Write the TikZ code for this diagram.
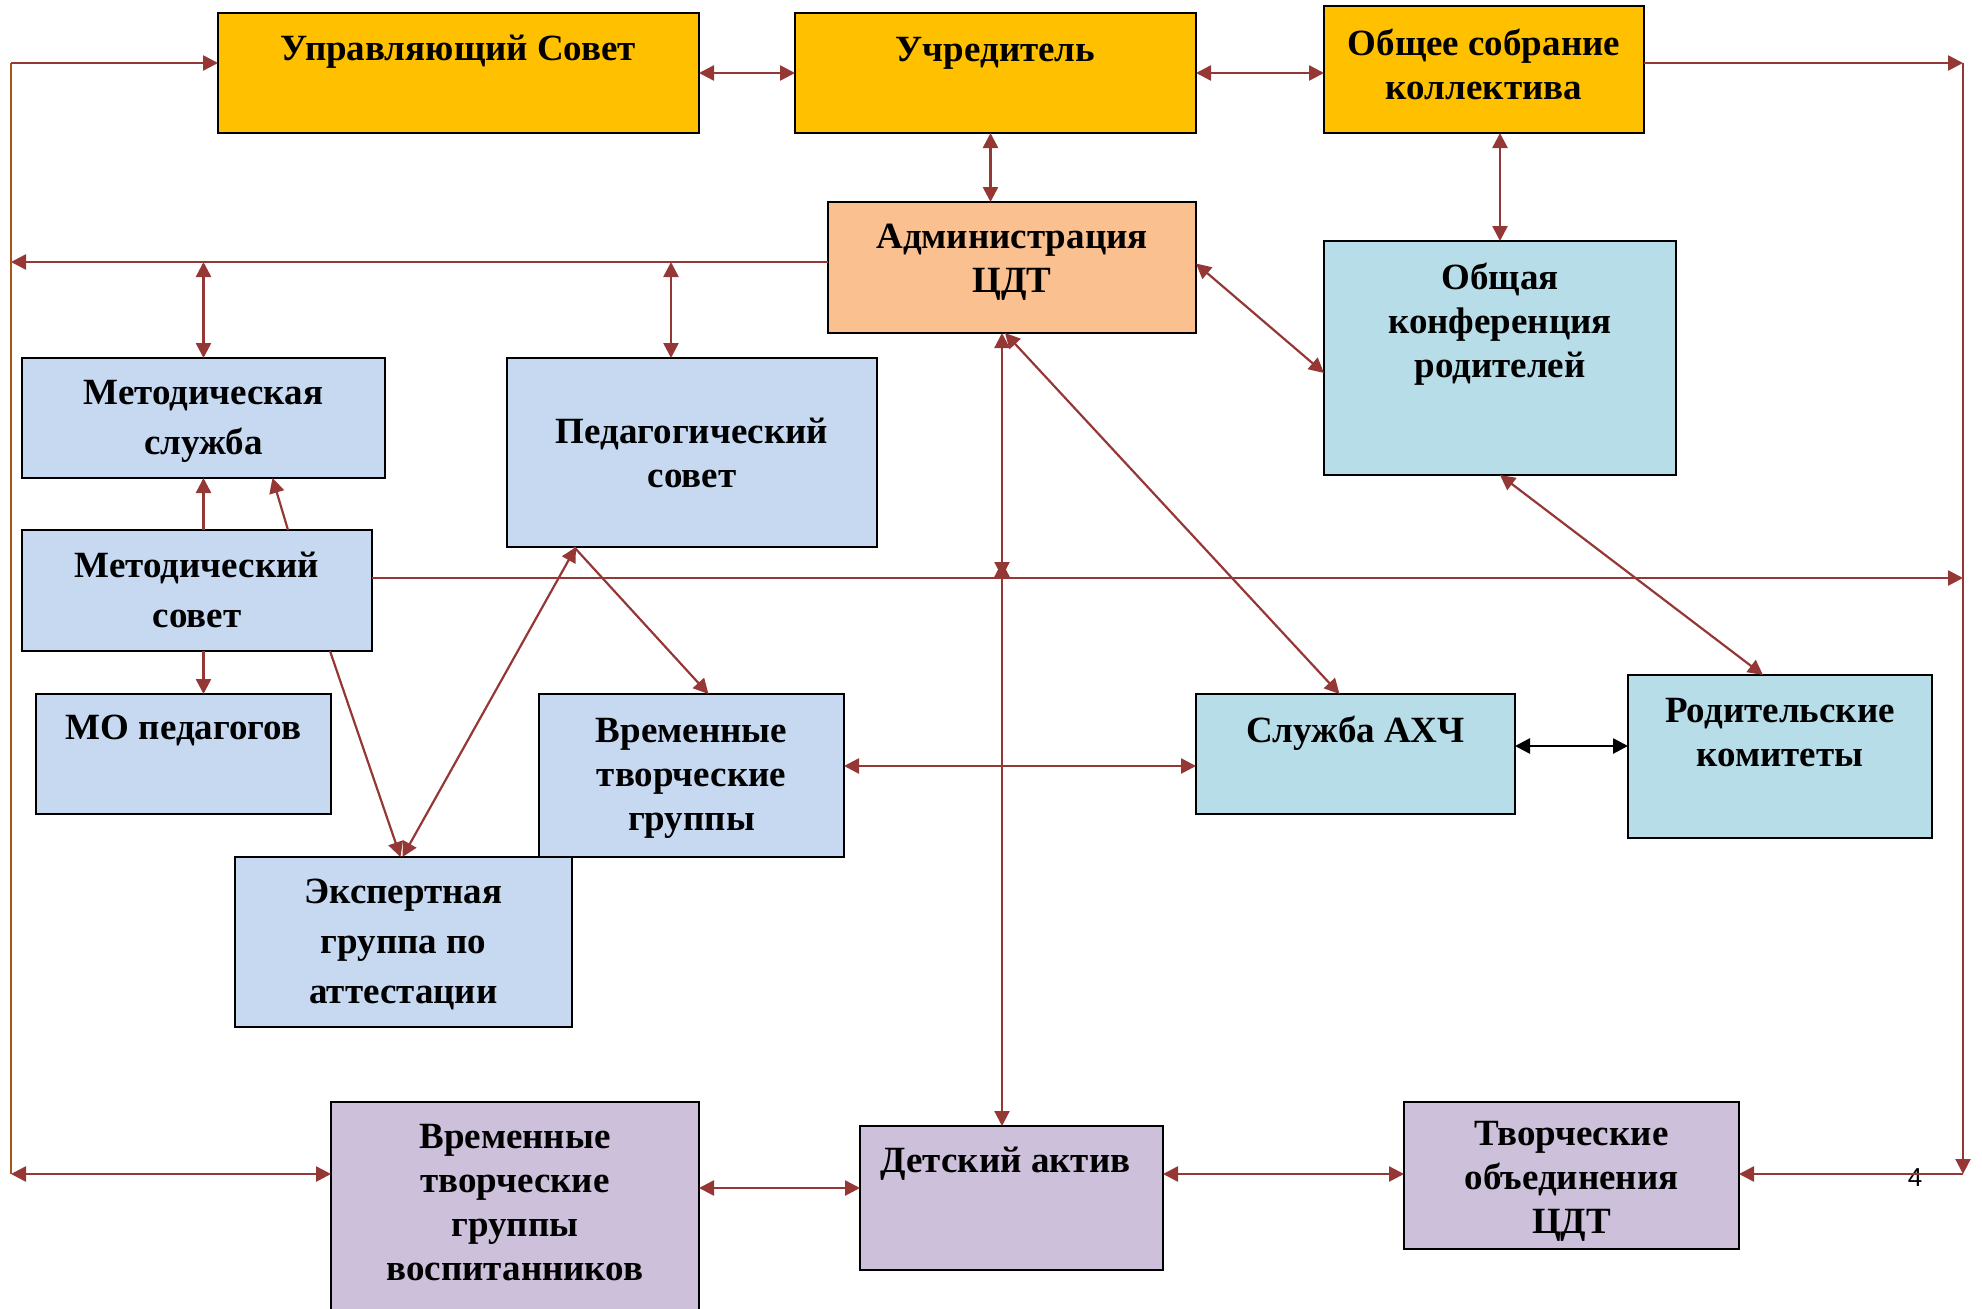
\documentclass[tikz,border=0pt]{standalone}
\usepackage{fontspec}
\setmainfont{Liberation Serif}
\newfontfamily\pagefont{Liberation Sans}
\usetikzlibrary{arrows.meta,calc}
\definecolor{gold}{HTML}{FFC000}
\definecolor{peach}{HTML}{FAC090}
\definecolor{lblue}{HTML}{C6D9F1}
\definecolor{lteal}{HTML}{B7DDE8}
\definecolor{lilac}{HTML}{CCC0DA}
\definecolor{arrowred}{HTML}{953735}
\definecolor{framebrown}{HTML}{A65717}
\tikzset{
  box/.style={draw=black, line width=2.5pt, rectangle, inner sep=0pt, outer sep=0pt, anchor=north west},
  txt/.style={font=\fontsize{37}{44}\selectfont\bfseries, align=center, inner sep=0pt, yshift=-3pt},
  txtw/.style={font=\fontsize{37}{50}\selectfont\bfseries, align=center, inner sep=0pt, yshift=-3pt},
  arr/.style={draw=arrowred, line width=2.6pt},
  thinarr/.style={draw=arrowred, line width=2.2pt},
  >={Triangle[length=15pt,width=15pt]}
}
\begin{document}
\begin{tikzpicture}[x=1pt,y=-1pt]
\useasboundingbox (0,0) rectangle (1982,1309);
% boxes
\node[box, fill=gold, minimum width=481, minimum height=120] (US) at (218,13) {};
\node[box, fill=gold, minimum width=401, minimum height=120] (Uch) at (795,13) {};
\node[box, fill=gold, minimum width=320, minimum height=127] (OS) at (1324,6) {};
\node[box, fill=peach, minimum width=368, minimum height=131] (Adm) at (828,202) {};
\node[box, fill=lteal, minimum width=352, minimum height=234] (OK) at (1324,241) {};
\node[box, fill=lblue, minimum width=363, minimum height=120] (MS) at (22,358) {};
\node[box, fill=lblue, minimum width=370, minimum height=189] (PS) at (507,358) {};
\node[box, fill=lblue, minimum width=350, minimum height=121] (MSov) at (22,530) {};
\node[box, fill=lblue, minimum width=295, minimum height=120] (MO) at (36,694) {};
\node[box, fill=lblue, minimum width=305, minimum height=163] (VTG) at (539,694) {};
\node[box, fill=lteal, minimum width=319, minimum height=120] (AHCH) at (1196,694) {};
\node[box, fill=lteal, minimum width=304, minimum height=163] (RK) at (1628,675) {};
\node[box, fill=lblue, minimum width=337, minimum height=170] (EG) at (235,857) {};
\node[box, fill=lilac, minimum width=368, minimum height=240] (VTGV) at (331,1102) {};
\node[box, fill=lilac, minimum width=303, minimum height=144] (DA) at (860,1126) {};
\node[box, fill=lilac, minimum width=335, minimum height=147] (TO) at (1404,1102) {};
% texts
\node[txt] (US-t) at (US.center |- 0,49) {Управляющий Совет};
\node[txt] (Uch-t) at (Uch.center |- 0,50) {Учредитель};
\node[txt] (OS-t) at (OS.center |- 0,61) {Общее собрание\\коллектива};
\node[txt] (Adm-t) at (Adm.center |- 0,259) {Администрация\\ЦДТ};
\node[txt] (OK-t) at (OK.center |- 0,321) {Общая\\конференция\\родителей};
\node[txtw] (MS-t) at (MS.center |- 0,418) {Методическая\\служба};
\node[txt] (PS-t) at (PS.center |- 0,450) {Педагогический\\совет};
\node[txtw] (MSov-t) at (MSov.center |- 0,587) {Методический\\совет};
\node[txt] (MO-t) at (MO.center |- 0,727) {МО педагогов};
\node[txt] (VTG-t) at (VTG.center |- 0,775) {Временные\\творческие\\группы};
\node[txt] (AHCH-t) at (AHCH.center |- 0,730) {Служба АХЧ};
\node[txt] (RK-t) at (RK.center |- 0,730) {Родительские\\комитеты};
\node[txtw] (EG-t) at (EG.center |- 0,941) {Экспертная\\группа по\\аттестации};
\node[txt] (VTGV-t) at (VTGV.center |- 0,1200) {Временные\\творческие\\группы\\воспитанников};
\node[txt] (DA-t) at ($(DA.center |- 0,1161)+(-6,0)$) {Детский актив};
\node[txt] (TO-t) at (TO.center |- 0,1178) {Творческие\\объединения\\ЦДТ};
\node[font=\pagefont\fontsize{26}{30}\selectfont, inner sep=0pt] (pg) at (1915,1178) {4};
% helper coordinates
\coordinate (L1) at (11,262);
\coordinate (P1) at (671,262);
\coordinate (LT) at (11,63);
\coordinate (LB) at (11,1174);
\coordinate (RT) at (1963,63);
\coordinate (RB) at (1963,1174);
\coordinate (RM) at (1963,578);
\coordinate (H1) at (0,766);
\coordinate (H2) at (0,746);
\coordinate (H3) at (0,1188);
\coordinate (XA) at (1002,577);
\coordinate (XB) at (1002,562);
% top row
\draw[arr,<->] (US.east) -- (US.east -| Uch.west);
\draw[arr,<->] (Uch.east) -- (Uch.east -| OS.west);
\draw[arr,<->] ($(Uch.south)+(-5,0)$) -- ($(Uch.south |- Adm.north)+(-5,0)$);
\draw[arr,<->] (OK.north |- OS.south) -- (OK.north);
\draw[thinarr,<->] ($(Adm.east)+(0,-4)$) -- ($(OK.west)+(0,15)$);
% administration line to the left
\draw[arr,->] (Adm.west |- L1) -- (L1);
\draw[arr,<->] (MS.north |- L1) -- (MS.north);
\draw[arr,<->] (P1) -- (P1 |- PS.north);
% left frame
\draw[draw=framebrown, line width=2.5pt] (LT) -- (LB);
\draw[arr,->] (LT) -- (LT -| US.west);
\draw[arr,<->] (LB) -- (LB -| VTGV.west);
% right frame
\draw[arr,->] (RT -| OS.east) -- (RT);
\draw[thinarr,->] (RT) -- (RB);
\draw[arr,->] (RB) -- (RB -| TO.east);
\draw[arr,->] (RM -| MSov.east) -- (RM);
% middle
\draw[arr,<->] (VTG.east |- H1) -- (AHCH.west |- H1);
\draw[draw=black, line width=2.6pt,<->] (AHCH.east |- H2) -- (RK.west |- H2);
\draw[thinarr,<->] ($(Adm.south)+(-7,0)$) -- ($(AHCH.north)+(-16,0)$);
\draw[thinarr,<->] (OK.south) -- ($(RK.north)+(-17,0)$);
\draw[thinarr,<->] (XA |- Adm.south) -- (XA);
\draw[thinarr,<->] (XB |- DA.north) -- (XB);
% bottom row
\draw[arr,<->] (VTGV.east |- H3) -- (DA.west |- H3);
\draw[arr,<->] (DA.east |- RB) -- (TO.west |- RB);
% left column
\draw[arr,->] (MS.south |- MSov.north) -- (MS.south);
\draw[thinarr,->] ($(MSov.north)+(91,0)$) -- ($(MS.south)+(69,0)$);
\draw[arr,->] (MS.south |- MSov.south) -- (MS.south |- MO.north);
\draw[thinarr,->] ($(MSov.south)+(133,0)$) -- ($(EG.north)+(-3,0)$);
\draw[thinarr,<->] ($(PS.south)+(-116,0)$) -- ($(EG.north)+(-1,0)$);
\draw[thinarr,->] ($(PS.south)+(-118,0)$) -- ($(VTG.north)+(17,0)$);
\end{tikzpicture}
\end{document}
